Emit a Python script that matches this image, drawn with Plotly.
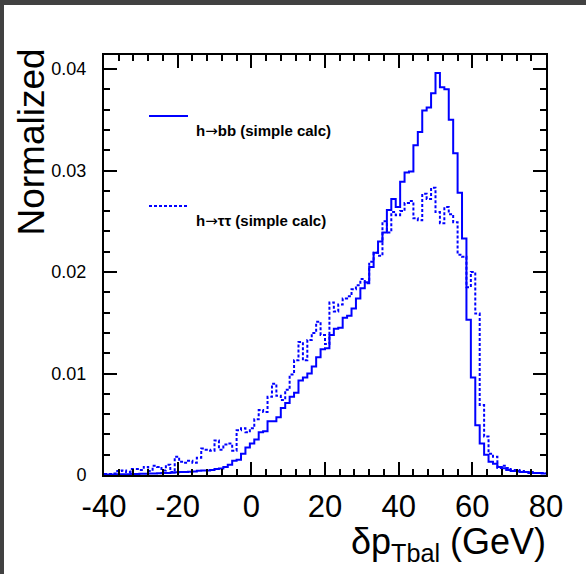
import plotly.graph_objects as go

# ---- data ----
x_min, x_max, n_bins = -40.0, 80.0, 100
bin_width = (x_max - x_min) / n_bins
edges = [x_min + i * bin_width for i in range(n_bins + 1)]

h_bb = [0.00005, 0.00005, 0.00006, 0.00007, 0.00008, 0.00008, 0.0001, 0.0001, 0.00012, 0.00012, 0.00014, 0.00015,
        0.00018, 0.0002, 0.0002, 0.00022,
        0.00028, 0.0003, 0.0003, 0.00032, 0.00035,
        0.00042, 0.00045, 0.00045, 0.0005,
        0.0006, 0.00065, 0.0008, 0.001,
        0.0014, 0.0015, 0.0021, 0.0027, 0.0031, 0.0035, 0.0042, 0.0043,
        0.0053, 0.0053, 0.0057, 0.0066, 0.0071, 0.0077, 0.0081, 0.0093, 0.0096, 0.0100, 0.0107,
        0.0116, 0.0124, 0.0125, 0.0138, 0.0144, 0.0145, 0.0155, 0.0157, 0.0164, 0.0174, 0.0184, 0.0190,
        0.0205, 0.0219, 0.0230, 0.0239, 0.0261, 0.0272, 0.0264, 0.0289, 0.0298, 0.0299, 0.0325, 0.0338,
        0.0359, 0.0362, 0.0376, 0.0396,
        0.0382, 0.0380, 0.0350, 0.0317, 0.0278, 0.0233,
        0.0153, 0.0096, 0.0049, 0.0031, 0.0020, 0.0013, 0.0011, 0.0008, 0.00066, 0.0005, 0.0004, 0.0004,
        0.0003, 0.0003, 0.0002, 0.0002, 0.0002, 0.00015]

h_tautau = [0.0001, 0.0001, 0.00015, 0.0004, 0.00045, 0.0003, 0.0006, 0.0006, 0.0005, 0.0008,
            0.0004, 0.0009, 0.0008, 0.00045, 0.001, 0.0003, 0.0018, 0.0013, 0.0012, 0.0014,
            0.0012, 0.0017, 0.0026, 0.0025, 0.0024, 0.0034, 0.0025, 0.0030, 0.0031, 0.0024,
            0.0044, 0.0046, 0.0042, 0.0046, 0.0055,
            0.0064, 0.0062, 0.0077, 0.0090, 0.0078, 0.0074, 0.0084, 0.0099, 0.0113, 0.0131,
            0.0113, 0.0133, 0.0140, 0.0151, 0.0138, 0.0129, 0.0170, 0.0161, 0.0168, 0.0174,
            0.0176, 0.0183, 0.0187, 0.0193, 0.0189, 0.0210, 0.0219, 0.0216,
            0.0250, 0.0239, 0.0259, 0.0256, 0.0260, 0.0268, 0.0270, 0.0253, 0.0251, 0.0277,
            0.0272, 0.0283, 0.0259, 0.0248, 0.0264, 0.0257, 0.0249,
            0.0217, 0.0215, 0.0185, 0.0200, 0.0159, 0.0069, 0.0038, 0.0021, 0.0018, 0.0007,
            0.0009, 0.0007, 0.0005, 0.0005, 0.0004, 0.0003, 0.0003, 0.0002, 0.0002, 0.0002]

y_ticks = [0, 0.01, 0.02, 0.03, 0.04]
x_ticks = [-40, -20, 0, 20, 40, 60, 80]
ARROW = '<span style="font-family:DejaVu Sans;font-weight:normal">\u2192</span>'
legend_labels = ["h" + ARROW + "bb (simple calc)", "h" + ARROW + "\u03c4\u03c4 (simple calc)"]

# ---- layout geometry (pixels) ----
W_PAGE, H_PAGE = 586, 574
L, T, R, B = 104, 55, 40, 99
PW, PH = W_PAGE - L - R, H_PAGE - T - B

def px_x(p):
    return (p - L) / PW

def px_y(p):
    return (T + PH - p) / PH

BLUE = "#0000ff"
FONT = "Liberation Sans, Arial, Helvetica, sans-serif"

fig = go.Figure()
fig.add_trace(go.Scatter(x=edges, y=h_bb + [h_bb[-1]], mode="lines", line_shape="hv",
                         line=dict(color=BLUE, width=2), showlegend=False, hoverinfo="skip"))
fig.add_trace(go.Scatter(x=edges, y=h_tautau + [h_tautau[-1]], mode="lines", line_shape="hv",
                         line=dict(color=BLUE, width=2, dash="3px,2px"), showlegend=False, hoverinfo="skip"))

y_top = 0.04 * PH / 406.0

axis_common = dict(showline=True, linecolor="black", linewidth=2, mirror="allticks",
                   ticks="inside", ticklen=13, tickwidth=2, tickcolor="black",
                   showgrid=False, zeroline=False)

fig.update_xaxes(range=[x_min, x_max], tickvals=x_ticks, ticktext=[str(v) for v in x_ticks],
                 tickfont=dict(family=FONT, size=31, color="black"), ticklabelstandoff=3,
                 minor=dict(dtick=4, tick0=-40, ticks="inside", ticklen=6, tickwidth=1.5, tickcolor="black"),
                 **axis_common)
fig.update_yaxes(range=[0, y_top], tickvals=y_ticks, ticktext=["0", "0.01", "0.02", "0.03", "0.04"],
                 tickfont=dict(family=FONT, size=18, color="black"), ticklabelstandoff=12,
                 minor=dict(dtick=0.002, tick0=0, ticks="inside", ticklen=6, tickwidth=1.5, tickcolor="black"),
                 **axis_common)

shapes = [
    # dark screenshot frame
    dict(type="rect", xref="paper", yref="paper", x0=px_x(0), x1=px_x(W_PAGE), y0=px_y(5), y1=px_y(0),
         fillcolor="#414141", line=dict(width=0), layer="below"),
    dict(type="rect", xref="paper", yref="paper", x0=px_x(0), x1=px_x(4), y0=px_y(H_PAGE), y1=px_y(0),
         fillcolor="#414141", line=dict(width=0), layer="below"),
    # legend samples
    dict(type="line", xref="paper", yref="paper", x0=px_x(149), x1=px_x(188), y0=px_y(116), y1=px_y(116),
         line=dict(color=BLUE, width=2)),
    dict(type="line", xref="paper", yref="paper", x0=px_x(149), x1=px_x(188), y0=px_y(206), y1=px_y(206),
         line=dict(color=BLUE, width=2, dash="3px,2px")),
]

annotations = [
    dict(text="<b>%s</b>" % legend_labels[0], xref="paper", yref="paper", x=px_x(194), y=px_y(131),
         xanchor="left", yanchor="middle", showarrow=False, font=dict(family=FONT, size=15, color="black")),
    dict(text="<b>%s</b>" % legend_labels[1], xref="paper", yref="paper", x=px_x(194), y=px_y(221),
         xanchor="left", yanchor="middle", showarrow=False, font=dict(family=FONT, size=15, color="black")),
    dict(text="Normalized", xref="paper", yref="paper", x=px_x(31), y=px_y(47), textangle=-90,
         xanchor="center", yanchor="top", showarrow=False, font=dict(family=FONT, size=37, color="black")),
    dict(text="\u03b4p<sub>Tbal</sub> (GeV)", xref="paper", yref="paper", x=px_x(548), y=px_y(544),
         xanchor="right", yanchor="middle", showarrow=False, font=dict(family=FONT, size=36, color="black")),
]

fig.update_layout(width=W_PAGE, height=H_PAGE, margin=dict(l=L, r=R, t=T, b=B, pad=0),
                  paper_bgcolor="white", plot_bgcolor="white", shapes=shapes, annotations=annotations,
                  showlegend=False)

fig.write_html("out.html", config={"displayModeBar": False})
